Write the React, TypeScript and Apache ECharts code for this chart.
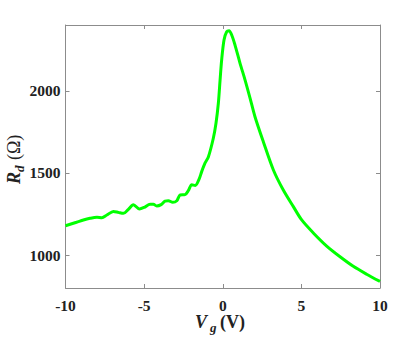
import React, { useEffect, useRef } from "react";
import * as echarts from "echarts";

const vg = [
  -10, -9.3, -8.86, -8.44, -8.0, -7.69, -7.37, -6.95, -6.64, -6.32, -6.0, -5.68,
  -5.3, -4.98, -4.62, -4.41, -4.2, -3.92, -3.67, -3.46, -3.18, -2.92, -2.71, -2.4,
  -2.19, -1.97, -1.75, -1.51, -1.34, -1.13, -0.91, -0.6, -0.43, -0.28, -0.17, -0.07,
  0.08, 0.25, 0.4, 0.57, 0.78, 1.1, 1.42, 1.74, 2.05, 2.58, 3.22, 3.85, 4.49,
  5.02, 5.76, 6.61, 7.46, 8.3, 9.15, 10,
];
const rd = [
  1179, 1200, 1214, 1224, 1230, 1228, 1244, 1266, 1260, 1254, 1279, 1307,
  1281, 1291, 1309, 1309, 1299, 1307, 1329, 1331, 1321, 1331, 1366, 1368,
  1392, 1428, 1424, 1461, 1508, 1559, 1599, 1711, 1802, 1924, 2065, 2187,
  2309, 2359, 2365, 2339, 2278, 2167, 2065, 1954, 1842, 1690, 1518, 1396, 1295,
  1214, 1135, 1055, 990, 932, 884, 840,
];
const xTicks = [-10, -5, 0, 5, 10];
const yTicks = [1000, 1500, 2000];

const FONT = "Liberation Serif";
const AXIS_COLOR = "#8c8c8c";

export default function App() {
  const ref = useRef<HTMLDivElement>(null);
  useEffect(() => {
    if (!ref.current) return;
    const chart = echarts.init(ref.current, null, { renderer: "svg" });
    const axisLine = { show: true, onZero: false, lineStyle: { color: AXIS_COLOR, width: 1 } };
    const tick = { show: true, inside: true, length: 4, lineStyle: { color: AXIS_COLOR } };
    const label = { color: "#222", fontFamily: FONT, fontWeight: "bold" as const, fontSize: 15.5 };
    chart.setOption({
      animation: false,
      backgroundColor: "#fff",
      grid: { left: 65.5, right: 40, top: 25, bottom: 51, containLabel: false },
      xAxis: [
        {
          type: "value", min: -10, max: 10, interval: 5, position: "bottom",
          axisLine, axisTick: tick, splitLine: { show: false },
          axisLabel: { ...label, margin: 9, formatter: (v: number) => (xTicks.includes(v) ? String(v) : "") },
        },
        {
          type: "value", min: -10, max: 10, interval: 5, position: "top",
          axisLine, axisTick: tick, splitLine: { show: false }, axisLabel: { show: false },
        },
      ],
      yAxis: [
        {
          type: "value", min: 800, max: 2400, position: "left",
          axisLine, splitLine: { show: false },
          axisTick: { ...tick, customValues: yTicks },
          axisLabel: { ...label, margin: 5, customValues: yTicks, formatter: (v: number) => String(v) },
        },
        {
          type: "value", min: 800, max: 2400, position: "right",
          axisLine, splitLine: { show: false },
          axisTick: { ...tick, customValues: yTicks },
          axisLabel: { show: false, customValues: yTicks },
        },
      ],
      series: [
        {
          type: "line",
          data: vg.map((x, i) => [x, rd[i]]),
          showSymbol: false,
          smooth: 0.3,
          lineStyle: { color: "#00ff00", width: 3 },
          itemStyle: { color: "#00ff00" },
        },
      ],
      graphic: [
        {
          type: "group",
          x: 0, y: 0,
          children: [
            { type: "text", x: 195, y: 313, style: { text: "V", font: `italic bold 18px ${FONT}`, fill: "#222" } },
            { type: "text", x: 210, y: 321, style: { text: "g", font: `italic bold 13px ${FONT}`, fill: "#222" } },
            { type: "text", x: 220, y: 313, style: { text: "(V)", font: `bold 18px ${FONT}`, fill: "#222" } },
          ],
        },
        {
          type: "group",
          x: 5, y: 184,
          rotation: Math.PI / 2,
          children: [
            { type: "text", x: 0, y: 0, style: { text: "R", font: `italic bold 18px ${FONT}`, fill: "#222" } },
            { type: "text", x: 12, y: 8, style: { text: "d", font: `italic bold 13px ${FONT}`, fill: "#222" } },
            { type: "text", x: 24, y: 0, style: { text: "(Ω)", font: `18px ${FONT}`, fill: "#222" } },
          ],
        },
      ],
    });
    return () => chart.dispose();
  }, []);
  return <div ref={ref} style={{ width: 420, height: 339, position: "absolute", left: 0, top: 0 }} />;
}
